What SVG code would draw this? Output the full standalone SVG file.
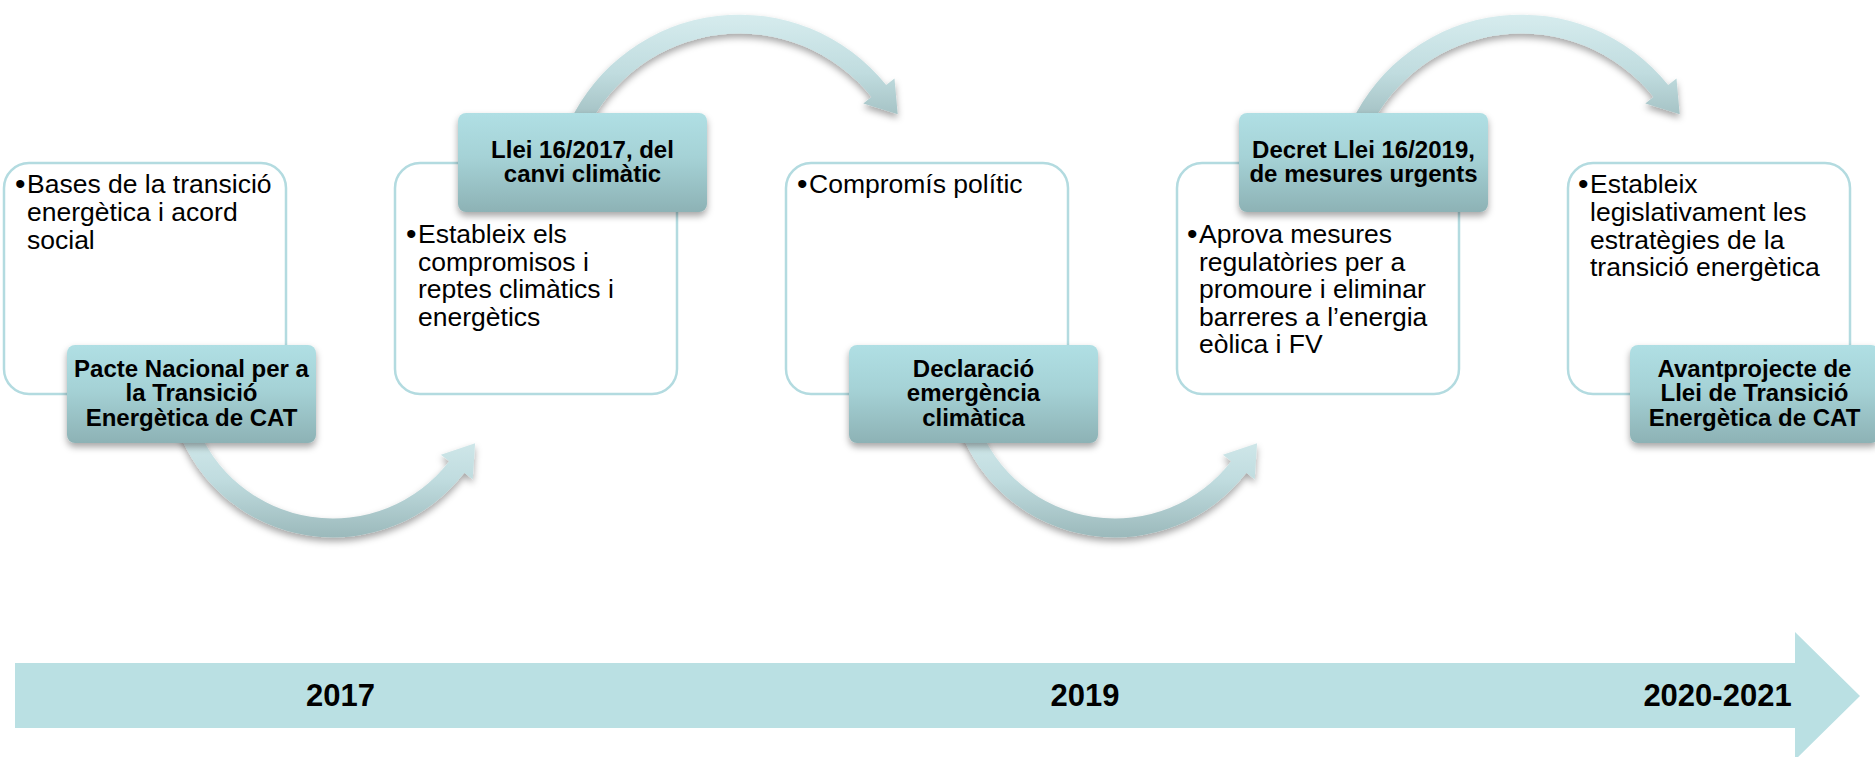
<svg xmlns="http://www.w3.org/2000/svg" xmlns:xlink="http://www.w3.org/1999/xlink" width="1875" height="757" viewBox="0 0 1875 757">
<defs>
<linearGradient id="lblGrad" x1="0" y1="0" x2="0" y2="1">
<stop offset="0" stop-color="#b0dfe4"/>
<stop offset="0.45" stop-color="#a5d2d6"/>
<stop offset="1" stop-color="#8db2b5"/>
</linearGradient>
<linearGradient id="arrGrad" x1="0" y1="0" x2="0" y2="1">
<stop offset="0" stop-color="#d6ecee"/>
<stop offset="0.5" stop-color="#c0dcdf"/>
<stop offset="1" stop-color="#9bb9bb"/>
</linearGradient>
<filter id="shadow" x="-20%" y="-20%" width="140%" height="150%">
<feDropShadow dx="0" dy="4" stdDeviation="3.5" flood-color="#000" flood-opacity="0.35"/>
</filter>
<path id="lowerArrow" d="M195.3,422.1 A146.5,146.5 0 0 0 449.2,461.2 L440.9,454.8 L475.1,443.2 L472.7,479.2 L464.3,472.8 A165.5,165.5 0 0 1 177.5,428.6 Z"/>
<path id="upperArrow" d="M569.1,123.2 A188,188 0 0 1 886.2,85.1 L894.5,78.4 L897.7,114.3 L863.3,103.4 L871.4,96.9 A169,169 0 0 0 586.3,131.2 Z"/>
</defs>
<style>
.box{fill:#ffffff;stroke:#b3dbe0;stroke-width:2.5}
.lbl{fill:url(#lblGrad);filter:url(#shadow)}
.arr{fill:url(#arrGrad);filter:url(#shadow)}
.body{font-family:"Liberation Sans",Arial,sans-serif;font-size:26.5px;fill:#000}
.bul{font-family:"Liberation Sans",Arial,sans-serif;font-size:30px;fill:#000}
.ltxt{font-family:"Liberation Sans",Arial,sans-serif;font-size:24px;font-weight:bold;fill:#000;text-anchor:middle}
.year{font-family:"Liberation Sans",Arial,sans-serif;font-size:31px;font-weight:bold;fill:#000;text-anchor:middle}
</style>
<rect width="1875" height="757" fill="#ffffff"/>

<g id="timeline">
<polygon points="15,663 1795,663 1795,632 1860,696 1795,760 1795,728 15,728" fill="#bae0e3"/>
<text class="year" x="340.5" y="706">2017</text>
<text class="year" x="1085" y="706">2019</text>
<text class="year" x="1717.5" y="706">2020-2021</text>
</g>

<g id="box1">
<rect class="box" x="4" y="163" width="282" height="231" rx="25"/>
<text class="bul" x="15" y="194">•</text>
<text class="body"><tspan x="27" y="193">Bases de la transició</tspan><tspan x="27" y="221">energètica i acord</tspan><tspan x="27" y="248.5">social</tspan></text>
</g>
<g id="box2">
<rect class="box" x="395" y="163" width="282" height="231" rx="25"/>
<text class="bul" x="406" y="244">•</text>
<text class="body"><tspan x="418" y="243">Estableix els</tspan><tspan x="418" y="270.5">compromisos i</tspan><tspan x="418" y="298">reptes climàtics i</tspan><tspan x="418" y="325.5">energètics</tspan></text>
</g>
<g id="box3">
<rect class="box" x="786" y="163" width="282" height="231" rx="25"/>
<text class="bul" x="797" y="194">•</text>
<text class="body" x="809" y="193">Compromís polític</text>
</g>
<g id="box4">
<rect class="box" x="1177" y="163" width="282" height="231" rx="25"/>
<text class="bul" x="1187" y="244">•</text>
<text class="body"><tspan x="1199" y="243">Aprova mesures</tspan><tspan x="1199" y="270.5">regulatòries per a</tspan><tspan x="1199" y="298">promoure i eliminar</tspan><tspan x="1199" y="325.5">barreres a l’energia</tspan><tspan x="1199" y="353">eòlica i FV</tspan></text>
</g>
<g id="box5">
<rect class="box" x="1568" y="163" width="282" height="231" rx="25"/>
<text class="bul" x="1578" y="194">•</text>
<text class="body"><tspan x="1590" y="193">Estableix</tspan><tspan x="1590" y="221">legislativament les</tspan><tspan x="1590" y="248.5">estratègies de la</tspan><tspan x="1590" y="276">transició energètica</tspan></text>
</g>

<g id="connectors">
<use xlink:href="#lowerArrow" href="#lowerArrow" class="arr"/>
<use xlink:href="#upperArrow" href="#upperArrow" class="arr"/>
<use xlink:href="#lowerArrow" href="#lowerArrow" class="arr" transform="translate(782,0)"/>
<use xlink:href="#upperArrow" href="#upperArrow" class="arr" transform="translate(782,0)"/>
</g>

<g id="label1">
<rect class="lbl" x="67" y="345" width="249" height="98" rx="8"/>
<text class="ltxt"><tspan x="191.5" y="377">Pacte Nacional per a</tspan><tspan x="191.5" y="401">la Transició</tspan><tspan x="191.5" y="426">Energètica de CAT</tspan></text>
</g>
<g id="label2">
<rect class="lbl" x="458" y="113" width="249" height="99" rx="8"/>
<text class="ltxt"><tspan x="582.5" y="158">Llei 16/2017, del</tspan><tspan x="582.5" y="182">canvi climàtic</tspan></text>
</g>
<g id="label3">
<rect class="lbl" x="849" y="345" width="249" height="98" rx="8"/>
<text class="ltxt"><tspan x="973.5" y="377">Declaració</tspan><tspan x="973.5" y="401">emergència</tspan><tspan x="973.5" y="426">climàtica</tspan></text>
</g>
<g id="label4">
<rect class="lbl" x="1239" y="113" width="249" height="99" rx="8"/>
<text class="ltxt"><tspan x="1363.5" y="158">Decret Llei 16/2019,</tspan><tspan x="1363.5" y="182">de mesures urgents</tspan></text>
</g>
<g id="label5">
<rect class="lbl" x="1630" y="345" width="249" height="98" rx="8"/>
<text class="ltxt"><tspan x="1754.5" y="377">Avantprojecte de</tspan><tspan x="1754.5" y="401">Llei de Transició</tspan><tspan x="1754.5" y="426">Energètica de CAT</tspan></text>
</g>
</svg>
